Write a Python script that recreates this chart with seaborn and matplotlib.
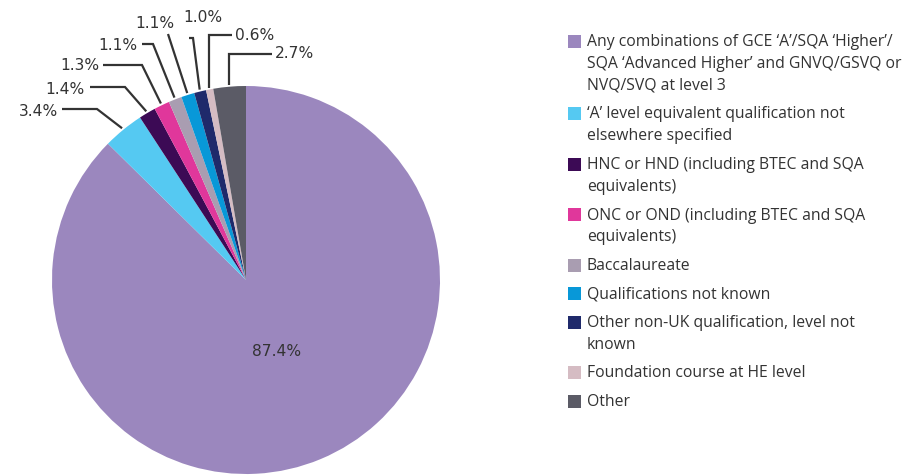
import matplotlib
matplotlib.use("Agg")
import matplotlib.pyplot as plt
from matplotlib.patches import Rectangle
import seaborn as sns
import numpy as np

# Qualification mix (percent of entrants)
categories = [
    "Any combinations of GCE \u2018A\u2019/SQA \u2018Higher\u2019/\nSQA \u2018Advanced Higher\u2019 and GNVQ/GSVQ or\nNVQ/SVQ at level 3",
    "\u2018A\u2019 level equivalent qualification not\nelsewhere specified",
    "HNC or HND (including BTEC and SQA\nequivalents)",
    "ONC or OND (including BTEC and SQA\nequivalents)",
    "Baccalaureate",
    "Qualifications not known",
    "Other non-UK qualification, level not\nknown",
    "Foundation course at HE level",
    "Other",
]
shares = [87.4, 3.4, 1.4, 1.3, 1.1, 1.1, 1.0, 0.6, 2.7]
colors = sns.color_palette(["#9b87be", "#55c9f2", "#3c0a55", "#e0379b", "#a99db1",
                            "#0898d8", "#1f2a6b", "#d5bcc3", "#5b5b66"])

W, H = 922, 477
TEXT = "#333333"

sns.set_theme(style="white")
plt.rcParams["font.family"] = ["Open Sans", "DejaVu Sans"]

fig = plt.figure(figsize=(W / 100, H / 100), dpi=100)
ax = fig.add_axes([0, 0, 1, 1])

# pie geometry in pixel units (y measured from top)
cx, cy, R = 246, 281, 194
wedges, _ = ax.pie(shares, colors=colors, startangle=90, counterclock=False,
                   center=(cx, H - cy), radius=R,
                   wedgeprops=dict(linewidth=0))
ax.set_xlim(0, W)
ax.set_ylim(0, H)
ax.set_aspect("equal")
ax.axis("off")

labels = [f"{v:.1f}%" for v in shares]

# big slice label
ax.text(277, H - 352, labels[0], ha="center", va="center", fontsize=11.2,
        color=TEXT, family="DejaVu Sans")

# leader lines for small slices: (elbow_x or None for vertical, elbow_y, end_x)
leaders = [(97, 110, 62), (125, 88, 90), (142, 66, 103), (153, 45, 142),
           (168, 35, 168), (193, 39, 189), (None, 36, 232), (None, 55, 272)]
text_pos = [(58, 111, "right"), (85, 89, "right"), (99, 66, "right"),
            (137, 45, "right"), (174, 23, "right"), (203, 17, "center"),
            (235, 35, "left"), (275, 54, "left")]

for w, lab, (ex, ey, endx), (tx, ty, ha) in zip(wedges[1:], labels[1:], leaders, text_pos):
    mid = np.deg2rad((w.theta1 + w.theta2) / 2)
    ax_ = cx + R * 1.01 * np.cos(mid)
    ay_ = cy - R * 1.01 * np.sin(mid)
    if ex is None:
        ex = ax_
    xs = [ax_, ex, endx]
    ys = [ay_, ey, ey]
    ax.plot(xs, [H - y for y in ys], color=TEXT, lw=1.6, solid_capstyle="butt",
            solid_joinstyle="miter")
    ax.text(tx, H - ty, lab, ha=ha, va="center", fontsize=11.2, color=TEXT,
            family="DejaVu Sans")

# legend drawn by hand so swatches line up with the first text line
lx, tx0, y = 568, 587, 42
line_h, gap, sq = 22, 6.5, 13
for cat, col in zip(categories, colors):
    ax.add_patch(Rectangle((lx, H - y - sq / 2), sq, sq, facecolor=col,
                           edgecolor="none"))
    for i, line in enumerate(cat.split("\n")):
        ax.text(tx0, H - (y + i * line_h), line, ha="left", va="center",
                fontsize=11.3, color=TEXT)
    y += len(cat.split("\n")) * line_h + gap

fig.savefig("out.png", dpi=100, facecolor="white")
